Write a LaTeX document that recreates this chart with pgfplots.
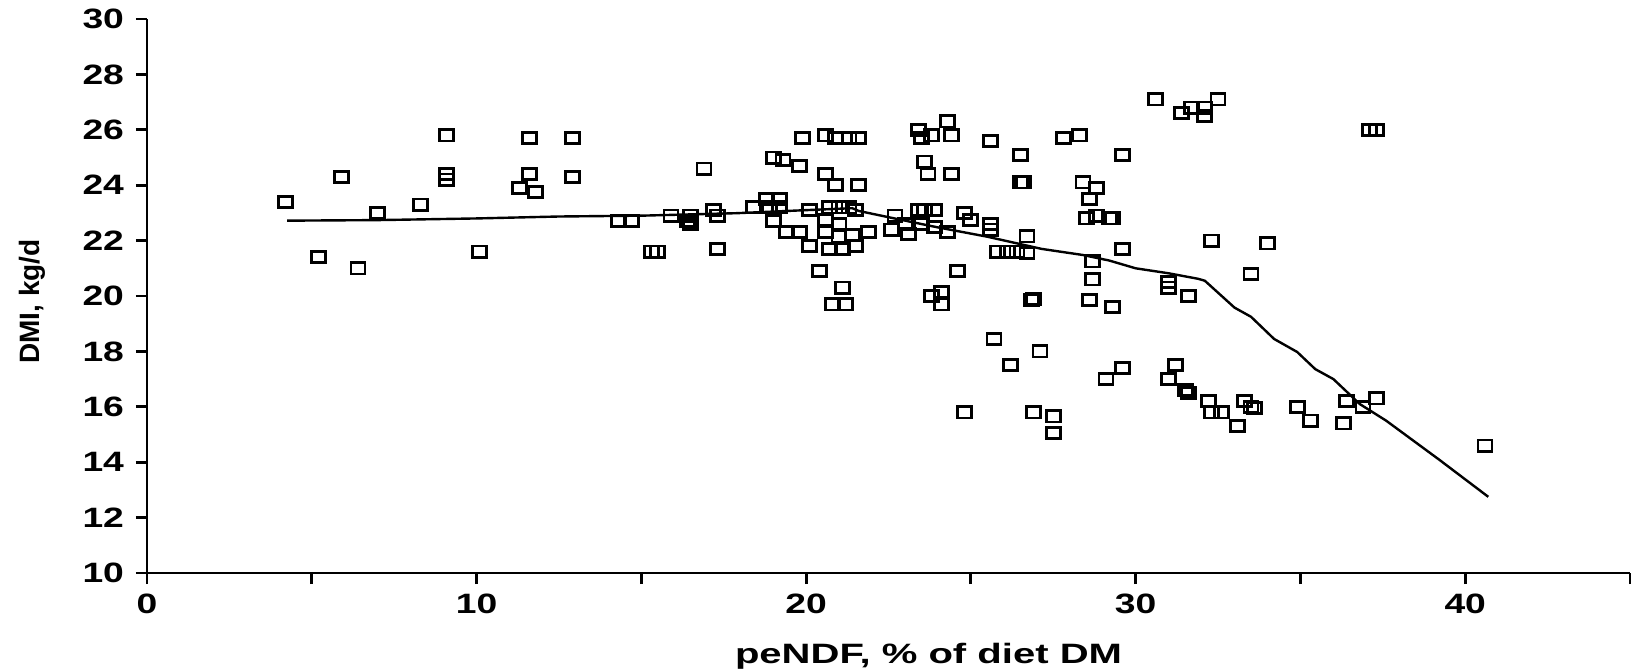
\documentclass[border=0pt]{standalone}
\usepackage{fontspec}
\setmainfont{Liberation Sans}
\usepackage{graphicx}
\usepackage{pgfplots}
\usepackage{pgfplotstable}
\pgfplotsset{compat=1.18}

\pgfplotstableread{
x y
4.2 23.4
5.2 21.4
5.9 24.3
6.4 21.0
7.0 23.0
8.3 23.3
9.1 25.8
9.1 24.4
9.1 24.2
10.1 21.6
11.3 23.9
11.6 24.4
11.6 25.7
11.8 23.75
12.9 25.7
12.9 24.3
14.3 22.7
14.7 22.7
15.3 21.6
15.5 21.6
15.9 22.9
16.4 22.7
16.5 22.9
16.5 22.6
16.9 24.6
17.2 23.1
17.3 22.9
17.3 21.7
18.4 23.2
18.8 23.5
19.2 23.5
18.9 23.2
19.2 23.2
19.0 25.0
19.3 24.9
19.8 24.7
19.0 22.7
19.4 22.3
19.8 22.3
19.9 25.7
20.1 23.1
20.1 21.8
20.4 20.9
20.6 24.4
20.9 24.0
21.6 24.0
20.6 25.8
20.9 25.7
21.3 25.7
21.6 25.7
20.7 23.2
21.0 23.2
21.3 23.2
21.5 23.1
20.6 22.75
21.0 22.6
20.6 22.3
21.0 22.15
21.4 22.2
20.7 21.7
21.1 21.7
21.5 21.8
21.9 22.3
21.1 20.3
20.8 19.7
21.2 19.7
22.7 22.9
22.6 22.4
23.1 22.25
23.4 23.1
23.6 23.1
23.9 23.1
23.0 22.6
23.5 22.6
23.9 22.5
24.3 22.3
23.4 26.0
23.5 25.7
23.8 25.8
24.4 25.8
24.3 26.3
23.6 24.85
23.7 24.4
24.4 24.4
24.6 20.9
23.8 20.0
24.1 20.15
24.1 19.7
24.8 23.0
25.0 22.75
25.6 22.6
25.6 22.4
25.6 25.6
26.5 25.1
26.5 24.1
26.6 24.1
25.8 21.6
26.1 21.6
26.4 21.6
26.7 22.15
26.7 21.55
25.7 18.45
27.1 18.0
26.2 17.5
26.9 19.9
26.85 19.85
27.8 25.7
28.3 25.8
28.4 24.1
28.8 23.9
28.6 23.5
28.5 22.8
28.8 22.9
29.2 22.8
29.3 22.8
28.7 21.25
28.7 20.6
28.6 19.85
29.3 19.6
29.6 25.1
29.6 21.7
24.8 15.8
26.9 15.8
27.5 15.65
27.5 15.05
30.6 27.1
31.4 26.6
31.7 26.8
32.1 26.8
32.1 26.5
32.5 27.1
37.1 26.0
37.3 26.0
32.3 22.0
34.0 21.9
33.5 20.8
31.0 20.5
31.0 20.3
31.6 20.0
29.6 17.4
29.1 17.0
31.2 17.5
31.0 17.0
31.5 16.6
31.6 16.5
32.2 16.2
32.3 15.8
32.6 15.8
33.1 15.3
33.3 16.2
33.5 16.0
33.6 15.95
34.9 16.0
35.3 15.5
36.3 15.4
36.4 16.2
36.9 16.0
37.3 16.3
40.6 14.6
}\obs

\pgfplotstableread{
x y
4.25 22.72
7.0 22.74
10.0 22.8
12.5 22.87
15.0 22.9
17.9 22.99
20.0 23.1
21.4 23.17
21.6 23.07
22.4 22.87
23.9 22.5
25.5 22.14
27.15 21.7
28.4 21.48
29.2 21.28
30.0 21.0
31.0 20.82
31.9 20.62
32.1 20.55
33.0 19.58
33.5 19.25
34.2 18.45
34.9 17.98
35.45 17.36
36.0 17.0
36.8 16.1
37.6 15.5
39.2 14.1
40.7 12.75
}\fit

\begin{document}
\begin{tikzpicture}
\useasboundingbox (-73.5pt,-49pt) rectangle (746.5pt,286.5pt);
\begin{axis}[
  at={(0,0)}, anchor=south west,
  scale only axis, width=741.5pt, height=277pt,
  xmin=0, xmax=45, ymin=10, ymax=30,
  axis lines*=left,
  axis line style={line width=1.4pt, black},
  tick align=outside,
  major tick length=5.5pt, minor tick length=5.5pt,
  every tick/.style={line width=1.4pt, black},
  xtick={0,10,20,30,40},
  minor xtick={5,15,25,35,45},
  ytick={10,12,14,16,18,20,22,24,26,28,30},
  /pgf/number format/assume math mode=true,
  tick label style={font=\bfseries\fontsize{14}{16}\selectfont},
  xticklabel={\scalebox{1.33}[1]{\pgfmathprintnumber{\tick}}},
  yticklabel={\scalebox{1.33}[1]{\pgfmathprintnumber{\tick}}},
  yticklabel style={xshift=-2.5pt},
  xticklabel style={yshift=-1.4pt},
  xlabel={\scalebox{1.43}[1]{peNDF, \% of diet DM}},
  xlabel style={font=\bfseries\fontsize{14}{16}\selectfont, at={(axis description cs:0.527,0)}, anchor=base, yshift=-45pt},
  ylabel={DMI, kg/d},
  ylabel style={font=\bfseries\fontsize{14}{16}\selectfont, at={(axis description cs:-0.0775,0.49)}, anchor=center},
  clip=false,
]
\addplot[black, line width=1.2pt, no marks] table[x=x,y=y] {\fit};
\addplot[only marks, mark=square, mark size=2.8pt, draw=black,
  mark options={xscale=1.25, line width=1.4pt, solid, fill=none}] table[x=x,y=y] {\obs};
\end{axis}
\end{tikzpicture}
\end{document}
